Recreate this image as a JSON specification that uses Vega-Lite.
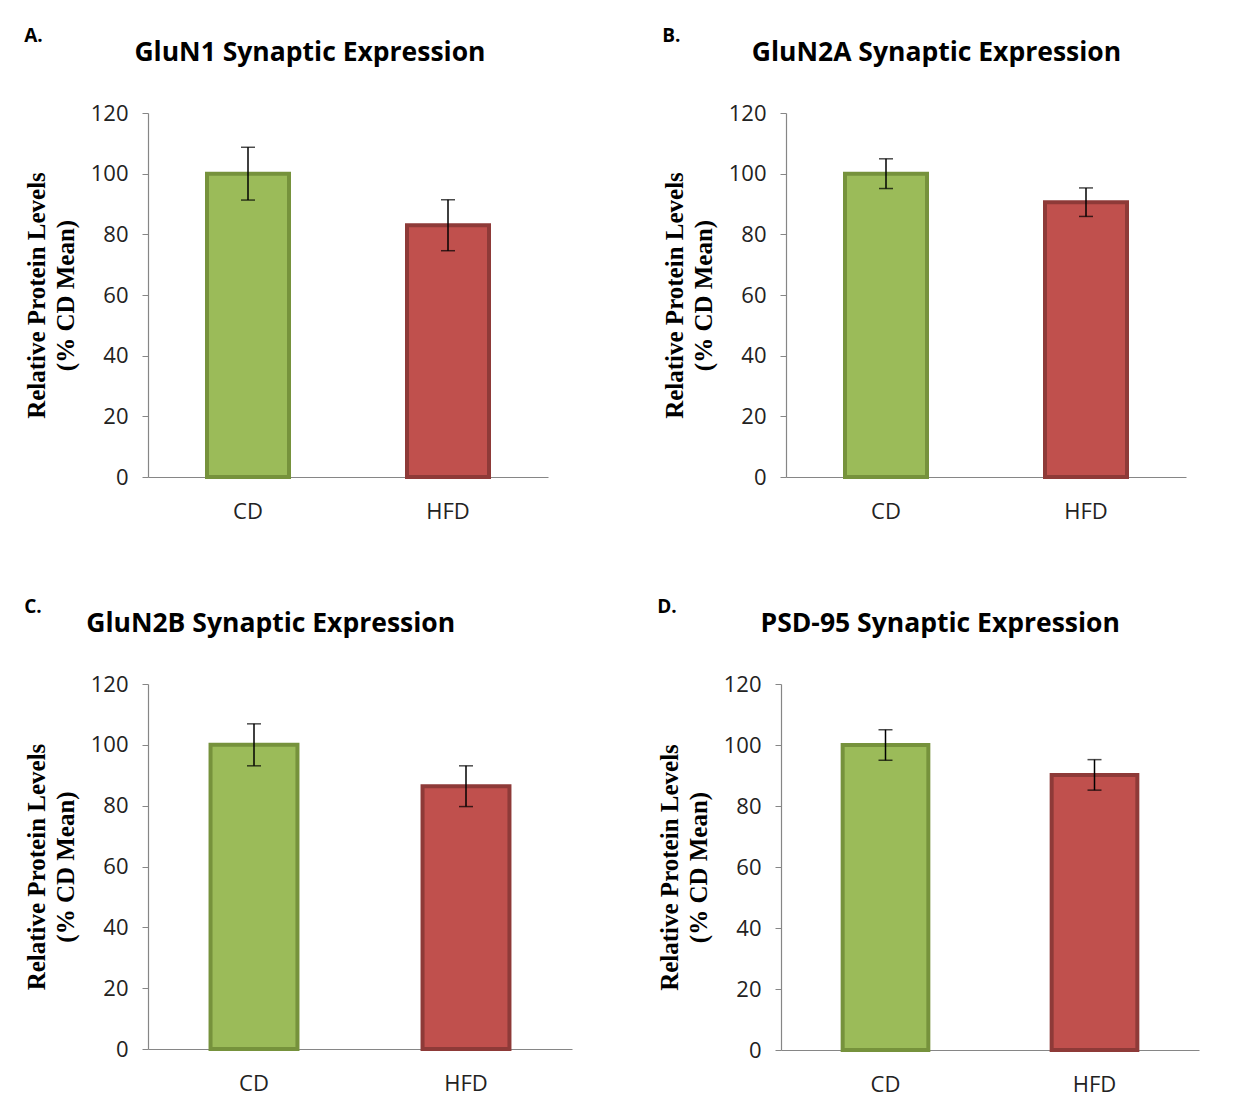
{
  "$schema": "https://vega.github.io/schema/vega-lite/v6.json",
  "background": "white",
  "padding": {"left": 24, "top": 26, "right": 5, "bottom": 5},
  "datasets": {
    "bars": [
      {"panel": "A", "group": "CD", "value": 100, "err": 8.7},
      {"panel": "A", "group": "HFD", "value": 83, "err": 8.4},
      {"panel": "B", "group": "CD", "value": 100, "err": 4.9},
      {"panel": "B", "group": "HFD", "value": 90.6, "err": 4.7},
      {"panel": "C", "group": "CD", "value": 100, "err": 6.9},
      {"panel": "C", "group": "HFD", "value": 86.4, "err": 6.7},
      {"panel": "D", "group": "CD", "value": 100, "err": 5},
      {"panel": "D", "group": "HFD", "value": 90.2, "err": 5}
    ]
  },
  "vconcat": [
    {
      "hconcat": [
        {
          "width": 400, "height": 364,
          "data": {"name": "bars"},
          "transform": [{"filter": "datum.panel === 'A'"}],
          "title": {"text": "A.", "fontSize": 19, "subtitle": "\u200b\u00a0\u00a0\u00a0\u00a0\u00a0\u00a0\u00a0\u00a0\u00a0\u00a0\u00a0\u00a0\u00a0\u00a0\u00a0\u00a0GluN1 Synaptic Expression"},
          "layer": [
            {"mark": {"type": "bar", "strokeWidth": 4},
             "encoding": {
               "x": {"field": "group", "type": "nominal", "scale": {"paddingInner": 0.59, "paddingOuter": 0.295}},
               "y": {"field": "value", "type": "quantitative", "scale": {"domain": [0, 120]}, "axis": {"title": ["Relative Protein Levels", "(% CD Mean)"], "values": [0, 20, 40, 60, 80, 100, 120]}},
               "fill": {"field": "group", "scale": {"domain": ["CD", "HFD"], "range": ["#9BBB59", "#C0504D"]}, "legend": null},
               "stroke": {"field": "group", "scale": {"domain": ["CD", "HFD"], "range": ["#76923C", "#8E3A38"]}, "legend": null}
             }},
            {"mark": {"type": "errorbar", "ticks": {"size": 14}, "color": "black", "thickness": 1.5},
             "encoding": {
               "x": {"field": "group", "type": "nominal"},
               "y": {"field": "value", "type": "quantitative", "axis": {"title": ["Relative Protein Levels", "(% CD Mean)"], "values": [0, 20, 40, 60, 80, 100, 120]}},
               "yError": {"field": "err"}
             }}
          ]
        },
        {
          "width": 400, "height": 364,
          "data": {"name": "bars"},
          "transform": [{"filter": "datum.panel === 'B'"}],
          "title": {"text": "B.", "fontSize": 19, "subtitle": "\u200b\u00a0\u00a0\u00a0\u00a0\u00a0\u00a0\u00a0\u00a0\u00a0\u00a0\u00a0\u00a0\u00a0GluN2A Synaptic Expression"},
          "layer": [
            {"mark": {"type": "bar", "strokeWidth": 4},
             "encoding": {
               "x": {"field": "group", "type": "nominal", "scale": {"paddingInner": 0.59, "paddingOuter": 0.295}},
               "y": {"field": "value", "type": "quantitative", "scale": {"domain": [0, 120]}, "axis": {"title": ["Relative Protein Levels", "(% CD Mean)"], "values": [0, 20, 40, 60, 80, 100, 120]}},
               "fill": {"field": "group", "scale": {"domain": ["CD", "HFD"], "range": ["#9BBB59", "#C0504D"]}, "legend": null},
               "stroke": {"field": "group", "scale": {"domain": ["CD", "HFD"], "range": ["#76923C", "#8E3A38"]}, "legend": null}
             }},
            {"mark": {"type": "errorbar", "ticks": {"size": 14}, "color": "black", "thickness": 1.5},
             "encoding": {
               "x": {"field": "group", "type": "nominal"},
               "y": {"field": "value", "type": "quantitative", "axis": {"title": ["Relative Protein Levels", "(% CD Mean)"], "values": [0, 20, 40, 60, 80, 100, 120]}},
               "yError": {"field": "err"}
             }}
          ]
        }
      ],
      "spacing": 114
    },
    {
      "hconcat": [
        {
          "width": 424, "height": 365,
          "data": {"name": "bars"},
          "transform": [{"filter": "datum.panel === 'C'"}],
          "title": {"text": "C.", "fontSize": 19, "subtitle": "\u200b\u00a0\u00a0\u00a0\u00a0\u00a0\u00a0\u00a0\u00a0\u00a0GluN2B Synaptic Expression"},
          "layer": [
            {"mark": {"type": "bar", "strokeWidth": 4},
             "encoding": {
               "x": {"field": "group", "type": "nominal", "scale": {"paddingInner": 0.59, "paddingOuter": 0.295}},
               "y": {"field": "value", "type": "quantitative", "scale": {"domain": [0, 120]}, "axis": {"title": ["Relative Protein Levels", "(% CD Mean)"], "values": [0, 20, 40, 60, 80, 100, 120]}},
               "fill": {"field": "group", "scale": {"domain": ["CD", "HFD"], "range": ["#9BBB59", "#C0504D"]}, "legend": null},
               "stroke": {"field": "group", "scale": {"domain": ["CD", "HFD"], "range": ["#76923C", "#8E3A38"]}, "legend": null}
             }},
            {"mark": {"type": "errorbar", "ticks": {"size": 14}, "color": "black", "thickness": 1.5},
             "encoding": {
               "x": {"field": "group", "type": "nominal"},
               "y": {"field": "value", "type": "quantitative", "axis": {"title": ["Relative Protein Levels", "(% CD Mean)"], "values": [0, 20, 40, 60, 80, 100, 120]}},
               "yError": {"field": "err"}
             }}
          ]
        },
        {
          "width": 418, "height": 366,
          "data": {"name": "bars"},
          "transform": [{"filter": "datum.panel === 'D'"}],
          "title": {"text": "D.", "fontSize": 19, "subtitle": "\u200b\u00a0\u00a0\u00a0\u00a0\u00a0\u00a0\u00a0\u00a0\u00a0\u00a0\u00a0\u00a0\u00a0\u00a0\u00a0PSD-95 Synaptic Expression"},
          "layer": [
            {"mark": {"type": "bar", "strokeWidth": 4},
             "encoding": {
               "x": {"field": "group", "type": "nominal", "scale": {"paddingInner": 0.59, "paddingOuter": 0.295}},
               "y": {"field": "value", "type": "quantitative", "scale": {"domain": [0, 120]}, "axis": {"title": ["Relative Protein Levels", "(% CD Mean)"], "values": [0, 20, 40, 60, 80, 100, 120]}},
               "fill": {"field": "group", "scale": {"domain": ["CD", "HFD"], "range": ["#9BBB59", "#C0504D"]}, "legend": null},
               "stroke": {"field": "group", "scale": {"domain": ["CD", "HFD"], "range": ["#76923C", "#8E3A38"]}, "legend": null}
             }},
            {"mark": {"type": "errorbar", "ticks": {"size": 14}, "color": "black", "thickness": 1.5},
             "encoding": {
               "x": {"field": "group", "type": "nominal"},
               "y": {"field": "value", "type": "quantitative", "axis": {"title": ["Relative Protein Levels", "(% CD Mean)"], "values": [0, 20, 40, 60, 80, 100, 120]}},
               "yError": {"field": "err"}
             }}
          ]
        }
      ],
      "spacing": 85
    }
  ],
  "spacing": 75,
  "config": {
    "view": {"stroke": null},
    "title": {
      "anchor": "start", "frame": "bounds",
      "font": "Open Sans", "fontSize": 19, "fontWeight": "bold", "color": "black",
      "subtitleFont": "Open Sans", "subtitleFontSize": 26.5, "subtitleFontWeight": "bold", "subtitleColor": "black",
      "subtitlePadding": -6, "offset": 36
    },
    "axis": {
      "grid": false, "domainColor": "#868686", "tickColor": "#868686", "domainWidth": 1.2,
      "labelFont": "Open Sans", "labelFontSize": 22, "labelColor": "#222", "tickSize": 6
    },
    "axisX": {"title": null, "labelAngle": 0, "ticks": false, "labelPadding": 24},
    "axisY": {
      "labelPadding": 14,
      "titleFont": "Liberation Serif", "titleFontSize": 25, "titleFontWeight": "bold", "titleColor": "black",
      "titlePadding": 12, "titleLineHeight": 29
    }
  }
}
